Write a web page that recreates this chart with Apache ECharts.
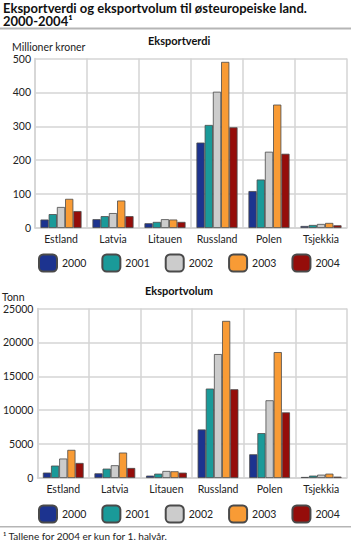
<!DOCTYPE html>
<html>
<head>
<meta charset="utf-8">
<script src="https://cdn.jsdelivr.net/npm/echarts@6/dist/echarts.min.js"></script>
<style>
html,body{margin:0;padding:0;background:#fff;}
#c{width:351px;height:544px;}
</style>
</head>
<body>
<div id="c"></div>
<script>
var categories = ['Estland', 'Latvia', 'Litauen', 'Russland', 'Polen', 'Tsjekkia'];
var years = ['2000', '2001', '2002', '2003', '2004'];
var colors = ['#1c338f', '#1a9a99', '#cccccc', '#f89b35', '#950d0a'];

var verdi2000 = [25, 26, 14, 252, 109, 6];
var verdi2001 = [41, 35, 18, 304, 143, 9];
var verdi2002 = [62, 44, 26, 402, 225, 12];
var verdi2003 = [86, 81, 25, 490, 364, 15];
var verdi2004 = [50, 35, 18, 297, 219, 8];

var volum2000 = [800, 690, 350, 7160, 3500, 150];
var volum2001 = [1830, 1380, 640, 13190, 6620, 350];
var volum2002 = [2870, 1880, 1040, 18280, 11460, 490];
var volum2003 = [4150, 3750, 990, 23170, 18570, 640];
var volum2004 = [2220, 1480, 790, 13090, 9680, 200];

var verdiTicks = {min: 0, max: 500, interval: 100};
var volumTicks = {min: 0, max: 25000, interval: 5000};

var verdi = [verdi2000, verdi2001, verdi2002, verdi2003, verdi2004];
var volum = [volum2000, volum2001, volum2002, volum2003, volum2004];

var FONT = 'Lato';
var TXT = '#222';
var GRID = '#d4d4d4';

function xAx(gi) {
  return {
    type: 'category', gridIndex: gi, data: categories,
    axisLine: {show: true, lineStyle: {color: GRID, width: 1.5}},
    axisTick: {show: false},
    splitLine: {show: true, interval: 0, lineStyle: {color: GRID, width: 1.5}},
    axisLabel: {interval: 0, color: TXT, fontFamily: FONT, fontSize: 10.5, margin: 5}
  };
}
function yAx(gi, t) {
  return {
    type: 'value', gridIndex: gi, min: t.min, max: t.max, interval: t.interval,
    axisLine: {show: true, lineStyle: {color: GRID, width: 1.5}},
    axisTick: {show: false},
    splitLine: {show: true, lineStyle: {color: GRID, width: 1.5}},
    axisLabel: {color: TXT, fontFamily: FONT, fontSize: 10.5, margin: 4,
      formatter: function (v) { return String(v); }}
  };
}

var series = [];
[verdi, volum].forEach(function (set, gi) {
  set.forEach(function (vals, i) {
    series.push({
      type: 'bar', name: years[i], xAxisIndex: gi, yAxisIndex: gi,
      data: vals, barGap: '0%', barCategoryGap: '21%',
      itemStyle: {color: colors[i], borderColor: '#4a4a4a', borderWidth: 0.8},
      emphasis: {disabled: true}
    });
  });
});

function legend(top) {
  return {
    data: years, left: 38, top: top, itemWidth: 18, itemHeight: 17, itemGap: 15,
    selectedMode: false, padding: 0,
    textStyle: {color: TXT, fontFamily: FONT, fontSize: 10.5}
  };
}

var chart = echarts.init(document.getElementById('c'), null, {renderer: 'svg'});
chart.setOption({
  animation: false,
  textStyle: {fontFamily: FONT},
  title: [
    {
      text: 'Eksportverdi og eksportvolum til østeuropeiske land.\n2000-2004¹',
      left: 3, top: 1.5, padding: 0,
      textStyle: {fontFamily: FONT, fontWeight: 'bold', fontSize: 13, color: '#111', lineHeight: 13}
    },
    {text: 'Eksportverdi', left: 148, top: 35, padding: 0, textStyle: {fontFamily: FONT, fontWeight: 'bold', fontSize: 11, color: '#111'}},
    {text: 'Millioner kroner', left: 12, top: 41, padding: 0, textStyle: {fontFamily: FONT, fontWeight: 'normal', fontSize: 10.5, color: TXT}},
    {text: 'Eksportvolum', left: 145, top: 285, padding: 0, textStyle: {fontFamily: FONT, fontWeight: 'bold', fontSize: 11, color: '#111'}},
    {text: 'Tonn', left: 2, top: 291, padding: 0, textStyle: {fontFamily: FONT, fontWeight: 'normal', fontSize: 10.5, color: TXT}},
    {
      text: '¹ Tallene for 2004 er kun for 1. halvår.',
      left: 3, top: 530, padding: 0,
      textStyle: {fontFamily: FONT, fontWeight: 'normal', fontSize: 10, color: TXT, lineHeight: 12}
    }
  ],
  graphic: [
    {type: 'rect', shape: {x: 0, y: 27.5, width: 351, height: 2}, style: {fill: '#b5b5b5'}, silent: true},
    {type: 'rect', shape: {x: 0, y: 526, width: 351, height: 1.5}, style: {fill: '#b5b5b5'}, silent: true}
  ],
  legend: [legend(253.5), legend(504.5)],
  grid: [
    {left: 35, right: 4, top: 58.5, height: 169.5, containLabel: false},
    {left: 35, right: 4, top: 308.5, height: 169.5, containLabel: false}
  ],
  xAxis: [xAx(0), xAx(1)],
  yAxis: [yAx(0, verdiTicks), yAx(1, volumTicks)],
  series: series
});
</script>
</body>
</html>
